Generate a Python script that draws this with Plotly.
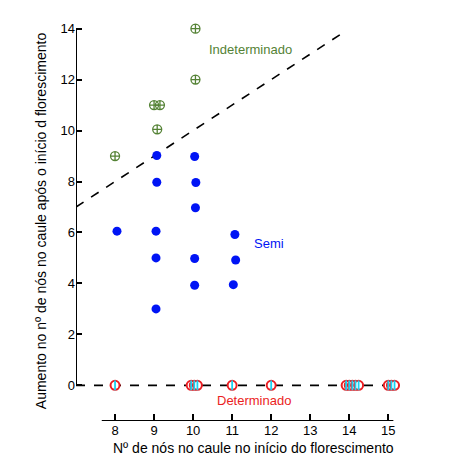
import plotly.graph_objects as go

# data
ind_x = [8.0, 9.0, 9.15, 9.08, 10.06, 10.06]
ind_y = [9.0, 11.0, 11.0, 10.05, 14.0, 12.0]

semi_x = [8.05, 9.07, 9.07, 9.05, 9.05, 9.05, 10.04, 10.07, 10.06, 10.04, 10.04, 11.07, 11.09, 11.03]
semi_y = [6.05, 9.02, 7.97, 6.05, 5.0, 3.0, 8.98, 7.96, 6.97, 4.98, 3.93, 5.92, 4.92, 3.95]

det_x = [8.0, 9.95, 10.03, 10.11, 11.0, 12.0, 13.92, 14.0, 14.08, 14.16, 14.24, 15.0, 15.08, 15.16]
det_y = [0] * len(det_x)

x_ticks = [8, 9, 10, 11, 12, 13, 14, 15]
y_ticks = [0, 2, 4, 6, 8, 10, 12, 14]

green = "rgb(84, 130, 53)"
blue = "rgb(0, 20, 245)"
red = "rgb(235, 30, 35)"
font = "Liberation Sans, Arial, sans-serif"

fig = go.Figure()

# dashed separator lines
fig.add_trace(go.Scatter(x=[7, 13.85], y=[7, 13.85], mode="lines",
                         line=dict(color="black", width=1.6, dash="dash"), hoverinfo="skip"))
fig.add_trace(go.Scatter(x=[7, 15.2], y=[0, 0], mode="lines",
                         line=dict(color="black", width=1.6, dash="dash"), hoverinfo="skip"))

fig.add_trace(go.Scatter(x=ind_x, y=ind_y, mode="markers", name="Indeterminado",
                         marker=dict(symbol="circle-cross-open", size=9, color=green,
                                     line=dict(width=1.3, color=green))))
fig.add_trace(go.Scatter(x=semi_x, y=semi_y, mode="markers", name="Semi",
                         marker=dict(symbol="circle", size=9, color=blue, line=dict(width=0))))
fig.add_trace(go.Scatter(x=det_x, y=det_y, mode="markers", name="Determinado",
                         marker=dict(symbol="circle", size=9, color="white",
                                     line=dict(width=2, color=red))))
fig.add_trace(go.Scatter(x=det_x, y=det_y, mode="markers", showlegend=False,
                         marker=dict(symbol="line-ns-open", size=7,
                                     line=dict(width=1.8, color=red))))

# axis lines that do not span the whole plot area
fig.add_shape(type="line", xref="x", yref="y", x0=7, x1=7, y0=0, y1=14,
              line=dict(color="black", width=2))
fig.add_shape(type="line", xref="x", yref="y", x0=7.66, x1=15.13, y0=-1.4, y1=-1.4,
              line=dict(color="black", width=2))

fig.add_annotation(x=11.46, y=13.2, text="Indeterminado", showarrow=False,
                   font=dict(family=font, size=13, color=green))
fig.add_annotation(x=11.94, y=5.55, text="Semi", showarrow=False,
                   font=dict(family=font, size=13, color=blue))
fig.add_annotation(x=11.55, y=-0.6, text="Determinado", showarrow=False,
                   font=dict(family=font, size=13, color=red))

# x title sits right of the plot centre in the original
fig.add_annotation(x=11.55, y=-1.4, yanchor="top", yshift=-17, showarrow=False,
                   text="Nº de nós no caule no início do florescimento",
                   font=dict(family=font, size=14, color="black"))

fig.update_layout(
    width=461, height=455,
    margin=dict(l=68, r=69, t=13, b=42),
    plot_bgcolor="white", paper_bgcolor="white",
    showlegend=False,
    font=dict(family=font, size=13, color="black"),
    xaxis=dict(
        range=[7, 15.3], tickvals=x_ticks, ticks="inside", ticklen=7, tickwidth=2,
        tickcolor="black", showline=False, showgrid=False, zeroline=False,
        tickfont=dict(family=font, size=13, color="black"),
    ),
    yaxis=dict(
        range=[-1.4, 14.3], tickvals=y_ticks, ticks="inside", ticklen=6, tickwidth=2,
        tickcolor="black", showline=False, showgrid=False, zeroline=False,
        tickfont=dict(family=font, size=13, color="black"),
        title=dict(text="Aumento no nº de nós no caule após o início d florescimento",
                   standoff=10, font=dict(family=font, size=14, color="black")),
    ),
)

fig.write_html("out.html")
